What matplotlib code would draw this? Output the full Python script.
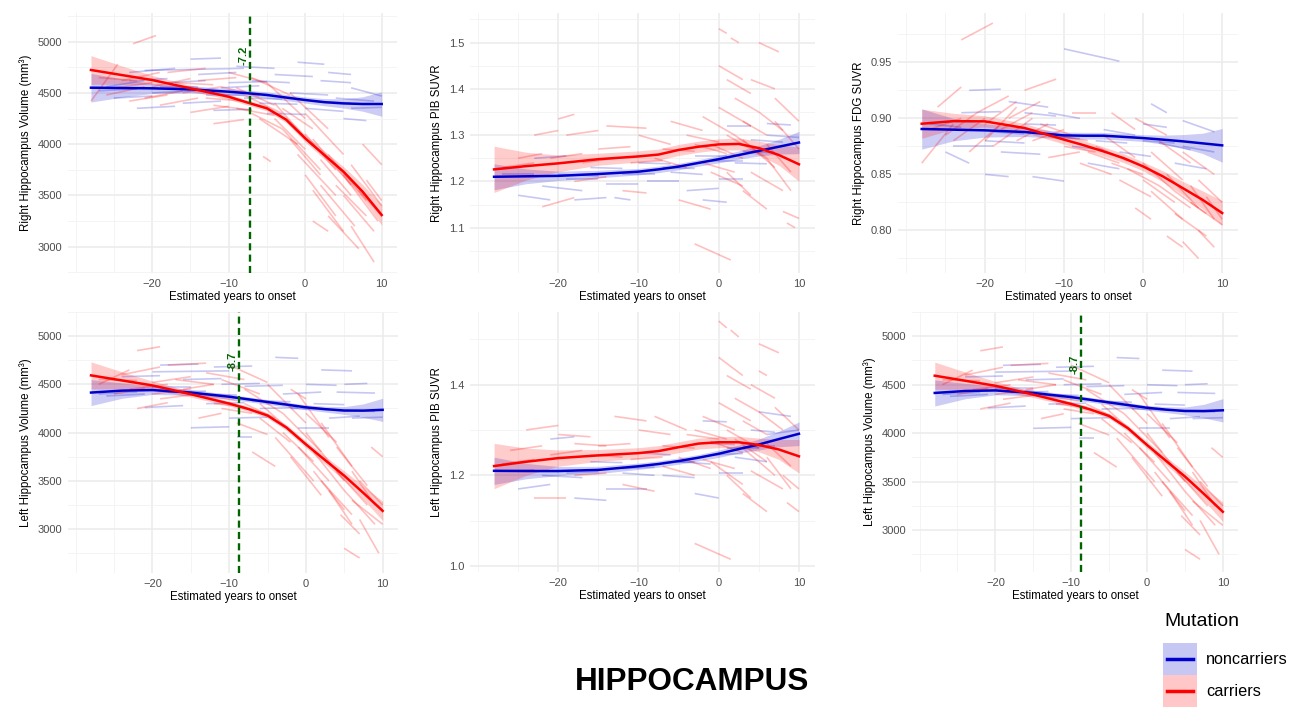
import matplotlib
matplotlib.use('Agg')
import matplotlib.pyplot as plt
from matplotlib.patches import Rectangle

plt.rcParams['font.family'] = ['Liberation Sans', 'DejaVu Sans']

W, H = 1297, 707
RED = '#FF0000'
BLUE = '#0000CD'
GREEN = '#006400'

# x grid of the smooth fits (years to onset)
fit_x = [-28, -24, -20, -15, -10, -7.5, -5, -2.5, 0, 2.5, 5, 7.5, 10]

# ---- Right hippocampus volume ----
rv_car_fit = [4724, 4675, 4626, 4545, 4463, 4405, 4350, 4240, 4057, 3894, 3732, 3537, 3309]
rv_car_hw = [140, 90, 45, 30, 25, 25, 25, 30, 35, 40, 50, 70, 100]
rv_non_fit = [4551, 4548, 4545, 4535, 4512, 4497, 4480, 4455, 4431, 4410, 4398, 4392, 4392]
rv_non_hw = [140, 90, 50, 35, 30, 30, 30, 30, 30, 35, 45, 70, 120]
rv_car_seg = [
    (-28, 4420, -24.5, 4780), (-22.5, 4980, -19.5, 5060), (-26, 4480, -21, 4560),
    (-24, 4620, -19, 4700), (-23, 4420, -18, 4480), (-20, 4560, -15, 4640),
    (-19, 4380, -14, 4450), (-18, 4700, -13, 4740), (-16, 4500, -11, 4560),
    (-15, 4310, -10, 4370), (-14, 4620, -9, 4650), (-12, 4200, -8, 4240),
    (-11, 4560, -6, 4470), (-10, 4700, -5, 4600), (-9, 4350, -4, 4280),
    (-8, 4480, -3, 4300), (-7, 4650, -2, 4480), (-6, 4250, -1, 4000),
    (-5, 4600, 0, 4250), (-4, 4400, 1, 3980), (-3, 4150, 2, 3750),
    (-2, 4500, 3, 4150), (-1, 3900, 4, 3500), (0, 4300, 5, 3900),
    (0, 3700, 4, 3300), (1, 4050, 6, 3600), (2, 3600, 6.5, 3200),
    (3, 3900, 8, 3450), (3, 3300, 7, 2980), (5, 3700, 9.5, 3250),
    (6, 3200, 9, 2850), (7.5, 4000, 10, 3800), (8, 3650, 10, 3450),
    (1, 3250, 3, 3150), (-5.5, 3880, -4.5, 3830), (-13, 4450, -8, 4420),
    (-27, 4650, -22, 4620), (-25, 4550, -20, 4600), (-21, 4450, -16, 4520),
    (-17, 4600, -12, 4580), (-13, 4520, -8, 4420), (-12, 4380, -7, 4330),
    (-9, 4550, -4, 4380), (-7, 4300, -3, 4150), (-4, 4250, 0, 3950),
    (-2, 4050, 2, 3700), (0, 4100, 4, 3750), (2, 3850, 6, 3500),
    (4, 3600, 8, 3300), (5, 3500, 9, 3150), (6, 3800, 10, 3400),
    (7, 3550, 10, 3300), (-3, 4350, 1, 4150), (1, 3550, 5, 3150),
]
rv_non_seg = [
    (-26, 4560, -21, 4620), (-25, 4450, -20, 4470), (-23, 4700, -17, 4740),
    (-22, 4350, -17, 4370), (-20, 4500, -15, 4520), (-18, 4600, -13, 4620),
    (-16, 4400, -11, 4420), (-15, 4830, -11, 4840), (-14, 4680, -9, 4700),
    (-12, 4330, -7, 4340), (-11, 4550, -6, 4570), (-9, 4760, -4, 4740),
    (-8, 4450, -3, 4440), (-7, 4620, -2, 4600), (-5, 4300, 0, 4290),
    (-4, 4680, 1, 4660), (-2, 4500, 3, 4480), (-1, 4800, 2.5, 4780),
    (0, 4350, 5, 4320), (2, 4620, 6, 4600), (3, 4700, 6, 4680),
    (4, 4450, 9, 4420), (5, 4250, 8, 4230), (6, 4550, 10, 4470),
    (-21, 4720, -8, 4740), (-27, 4520, -22, 4540), (-19, 4560, -14, 4560),
    (-13, 4480, -8, 4480), (-6, 4400, -1, 4390), (1, 4420, 6, 4400),
    (6, 4350, 10, 4360), (-10, 4600, -5, 4610), (-23, 4620, -18, 4640),
]

# ---- Right hippocampus PIB SUVR ----
rp_car_fit = [1.226, 1.233, 1.239, 1.248, 1.254, 1.258, 1.268, 1.275, 1.280, 1.281, 1.272, 1.257, 1.237]
rp_car_hw = [0.050, 0.030, 0.018, 0.013, 0.012, 0.012, 0.012, 0.012, 0.012, 0.013, 0.015, 0.022, 0.037]
rp_non_fit = [1.210, 1.211, 1.212, 1.216, 1.221, 1.226, 1.232, 1.240, 1.248, 1.257, 1.266, 1.275, 1.284]
rp_non_hw = [0.028, 0.016, 0.010, 0.008, 0.007, 0.007, 0.007, 0.007, 0.008, 0.009, 0.011, 0.016, 0.024]
rp_car_seg = [
    (-25, 1.250, -22, 1.260), (-23, 1.300, -20, 1.310), (-20, 1.335, -18, 1.345),
    (-22, 1.145, -18, 1.165), (-19, 1.300, -15, 1.310), (-17, 1.240, -13, 1.250),
    (-14, 1.320, -9, 1.315), (-12, 1.180, -9, 1.175), (-10, 1.300, -6, 1.280),
    (-8, 1.250, -4, 1.230), (-6, 1.330, -2, 1.310), (-5, 1.160, -1, 1.140),
    (-3, 1.065, 1.5, 1.030), (-2, 1.340, 2, 1.300), (0, 1.450, 3, 1.420),
    (0, 1.530, 1, 1.520), (1.5, 1.510, 2.5, 1.500), (0, 1.360, 4, 1.320),
    (1, 1.420, 4, 1.390), (1, 1.220, 4, 1.170), (2, 1.300, 6, 1.250),
    (3, 1.180, 6, 1.140), (4, 1.420, 7, 1.400), (5, 1.500, 7.5, 1.480),
    (5, 1.350, 8, 1.310), (6, 1.250, 9, 1.180), (7, 1.330, 10, 1.270),
    (8, 1.135, 10, 1.120), (8.5, 1.110, 9.5, 1.100), (-3, 1.280, 1, 1.260),
    (3, 1.290, 7, 1.230), (-1, 1.220, 3, 1.190),
    (-27, 1.230, -23, 1.240), (-21, 1.250, -17, 1.260), (-18, 1.200, -14, 1.210),
    (-15, 1.270, -11, 1.275), (-11, 1.240, -7, 1.245), (-7, 1.270, -3, 1.265),
    (-4, 1.300, 0, 1.285), (-1, 1.280, 3, 1.250), (1, 1.300, 5, 1.260),
    (2, 1.380, 5, 1.350), (4, 1.220, 8, 1.180), (6, 1.280, 9, 1.220),
    (-2, 1.240, 2, 1.220), (7, 1.380, 10, 1.330), (3, 1.330, 6, 1.300),
]
rp_non_seg = [
    (-25, 1.170, -21, 1.160), (-22, 1.190, -17, 1.180), (-20, 1.215, -15, 1.212),
    (-18, 1.160, -14, 1.165), (-16, 1.230, -12, 1.228), (-14, 1.195, -10, 1.195),
    (-13, 1.165, -11, 1.160), (-10, 1.240, -6, 1.238), (-9, 1.200, -5, 1.200),
    (-6, 1.220, -2, 1.215), (-4, 1.180, 0, 1.185), (-3, 1.255, 1, 1.255),
    (0, 1.205, 3, 1.205), (1, 1.320, 4, 1.320), (2, 1.240, 6, 1.238),
    (4, 1.290, 8, 1.285), (6, 1.325, 9, 1.322), (-23, 1.250, -19, 1.255),
    (-2, 1.160, 1, 1.155), (-27, 1.215, -23, 1.215), (-19, 1.205, -15, 1.205),
    (-12, 1.215, -8, 1.215), (-7, 1.230, -3, 1.228), (-1, 1.245, 3, 1.245),
    (3, 1.265, 7, 1.262), (6, 1.300, 10, 1.295),
]

# ---- Right hippocampus FDG SUVR ----
rf_car_fit = [0.8952, 0.8975, 0.8973, 0.8914, 0.8810, 0.8760, 0.8705, 0.8646, 0.8571, 0.8482, 0.8378, 0.8274, 0.8155]
rf_car_hw = [0.013, 0.007, 0.005, 0.004, 0.004, 0.004, 0.004, 0.004, 0.004, 0.005, 0.006, 0.008, 0.011]
rf_non_fit = [0.8905, 0.8899, 0.8893, 0.8878, 0.8848, 0.8845, 0.8845, 0.8835, 0.8824, 0.8810, 0.8795, 0.8777, 0.8759]
rf_non_hw = [0.018, 0.010, 0.006, 0.004, 0.003, 0.003, 0.003, 0.003, 0.003, 0.004, 0.006, 0.009, 0.015]
rf_car_seg = [
    (-28, 0.860, -24, 0.895), (-26, 0.910, -23, 0.928), (-24, 0.880, -20, 0.900),
    (-23, 0.970, -19, 0.985), (-22, 0.870, -18, 0.895), (-21, 0.905, -17, 0.920),
    (-20, 0.880, -16, 0.910), (-19, 0.875, -14, 0.900), (-17, 0.900, -13, 0.915),
    (-15, 0.925, -11, 0.935), (-14, 0.880, -10, 0.890), (-12, 0.865, -8, 0.870),
    (-9, 0.905, -6, 0.905), (-8, 0.860, -4, 0.850), (-5, 0.885, -1, 0.865),
    (-4, 0.905, -1, 0.890), (-3, 0.845, 1, 0.830), (-1, 0.900, 3, 0.885),
    (-1, 0.820, 1, 0.810), (0, 0.860, 4, 0.835), (1, 0.835, 5, 0.810),
    (2, 0.880, 6, 0.860), (3, 0.795, 5, 0.785), (3, 0.850, 7, 0.820),
    (4, 0.815, 8, 0.795), (5, 0.790, 7, 0.775), (5, 0.870, 9, 0.850),
    (6, 0.840, 9, 0.810), (7, 0.800, 9, 0.785), (8, 0.830, 10, 0.810),
    (-6, 0.875, -2, 0.862), (-11, 0.885, -7, 0.880),
    (-27, 0.890, -23, 0.900), (-25, 0.885, -21, 0.905), (-18, 0.890, -14, 0.905),
    (-16, 0.880, -12, 0.895), (-13, 0.895, -9, 0.885), (-10, 0.875, -6, 0.870),
    (-7, 0.870, -3, 0.860), (-4, 0.860, 0, 0.850), (-2, 0.855, 2, 0.840),
    (0, 0.845, 4, 0.825), (2, 0.840, 6, 0.820), (4, 0.835, 8, 0.815),
    (6, 0.825, 10, 0.805), (7, 0.845, 10, 0.825), (1, 0.870, 5, 0.845),
    (-20, 0.895, -16, 0.915),
]
rf_non_seg = [
    (-25, 0.870, -22, 0.860), (-23, 0.905, -18, 0.906), (-22, 0.925, -18, 0.926),
    (-20, 0.880, -15, 0.878), (-18, 0.870, -13, 0.868), (-17, 0.915, -12, 0.910),
    (-15, 0.895, -11, 0.894), (-14, 0.848, -10, 0.844), (-12, 0.905, -8, 0.900),
    (-10, 0.962, -3, 0.951), (-9, 0.875, -5, 0.872), (-7, 0.860, -3, 0.855),
    (-5, 0.890, -1, 0.885), (-3, 0.870, 1, 0.866), (0, 0.895, 3, 0.892),
    (1, 0.913, 3, 0.905), (2, 0.878, 6, 0.872), (4, 0.860, 8, 0.855),
    (5, 0.898, 9, 0.888), (-24, 0.875, -19, 0.875), (-20, 0.850, -17, 0.848),
    (-27, 0.895, -23, 0.892), (-19, 0.888, -15, 0.886), (-12, 0.884, -8, 0.882),
    (-6, 0.880, -2, 0.878), (0, 0.880, 4, 0.878), (5, 0.875, 9, 0.870),
    (-15, 0.905, -11, 0.902),
]

# ---- Left hippocampus volume ----
lv_car_fit = [4593, 4541, 4489, 4398, 4301, 4245, 4177, 4050, 3878, 3715, 3553, 3374, 3189]
lv_car_hw = [140, 90, 45, 30, 25, 25, 25, 30, 35, 40, 50, 70, 100]
lv_non_fit = [4415, 4435, 4441, 4415, 4372, 4345, 4317, 4290, 4262, 4243, 4229, 4228, 4236]
lv_non_hw = [135, 80, 45, 30, 25, 25, 25, 25, 25, 30, 40, 70, 120]
lv_car_seg = [
    (-27, 4500, -23, 4650), (-22, 4850, -19, 4890), (-25, 4400, -21, 4460),
    (-24, 4600, -19, 4680), (-22, 4250, -18, 4310), (-20, 4520, -15, 4580),
    (-19, 4350, -14, 4400), (-18, 4700, -13, 4720), (-16, 4450, -12, 4500),
    (-14, 4150, -11, 4200), (-13, 4620, -8, 4550), (-12, 4300, -8, 4270),
    (-10, 4700, -5, 4520), (-9, 4100, -5, 3980), (-8, 4450, -3, 4200),
    (-7, 3800, -4, 3650), (-6, 4300, -1, 3950), (-5, 4500, 0, 4100),
    (-4, 3950, 1, 3500), (-3, 4200, 2, 3800), (-2, 3750, 2, 3350),
    (-1, 4400, 3, 3950), (0, 4000, 5, 3500), (1, 3600, 5, 3200),
    (2, 4100, 6, 3650), (3, 3400, 6, 3050), (4, 3850, 8, 3450),
    (4.5, 3150, 7, 2950), (5, 2800, 7, 2700), (6, 3600, 9, 3250),
    (7, 3100, 9.5, 2750), (8.5, 3850, 10, 3750), (-11, 4550, -6, 4400),
    (-2, 4450, 0, 4350),
    (-27, 4550, -22, 4540), (-23, 4450, -18, 4500), (-20, 4400, -15, 4450),
    (-17, 4550, -12, 4500), (-14, 4400, -9, 4330), (-11, 4250, -7, 4200),
    (-8, 4300, -4, 4150), (-6, 4150, -2, 3900), (-3, 4000, 1, 3700),
    (-1, 3850, 3, 3500), (1, 3800, 5, 3400), (2, 3500, 6, 3150),
    (4, 3600, 8, 3250), (5, 3400, 9, 3050), (6, 3300, 10, 3050),
    (7, 3500, 10, 3250), (0, 4200, 4, 3900),
]
lv_non_seg = [
    (-26, 4380, -21, 4400), (-24, 4580, -19, 4590), (-21, 4260, -16, 4280),
    (-19, 4700, -14, 4710), (-18, 4420, -13, 4430), (-16, 4550, -11, 4560),
    (-15, 4050, -10, 4060), (-13, 4300, -8, 4310), (-12, 4680, -7, 4690),
    (-10, 4150, -5, 4160), (-9, 3950, -7, 3950), (-8, 4480, -3, 4490),
    (-6, 4250, -1, 4260), (-4, 4780, -1, 4770), (-3, 4400, 2, 4420),
    (-1, 4050, 3, 4050), (0, 4500, 4, 4490), (1, 4300, 5, 4290),
    (2, 4650, 6, 4640), (3, 4150, 7, 4170), (4, 4420, 9, 4410),
    (5, 4500, 8, 4510), (-20, 4630, -10, 4640),
    (-27, 4400, -22, 4420), (-20, 4470, -15, 4470), (-14, 4400, -9, 4390),
    (-7, 4330, -2, 4320), (-2, 4250, 3, 4240), (4, 4230, 9, 4220),
    (6, 4150, 10, 4160), (-11, 4500, -6, 4510),
]

# ---- Left hippocampus PIB SUVR ----
lp_car_fit = [1.2205, 1.230, 1.238, 1.244, 1.249, 1.2535, 1.262, 1.270, 1.273, 1.273, 1.267, 1.257, 1.242]
lp_car_hw = [0.050, 0.030, 0.018, 0.013, 0.012, 0.012, 0.012, 0.012, 0.012, 0.013, 0.015, 0.022, 0.037]
lp_non_fit = [1.210, 1.2095, 1.2095, 1.212, 1.220, 1.225, 1.2315, 1.239, 1.2476, 1.258, 1.268, 1.280, 1.2916]
lp_non_hw = [0.030, 0.017, 0.010, 0.008, 0.007, 0.007, 0.007, 0.007, 0.008, 0.009, 0.012, 0.017, 0.026]
lp_car_seg = [
    (-26, 1.255, -22, 1.265), (-24, 1.300, -20, 1.310), (-23, 1.150, -19, 1.150),
    (-20, 1.290, -16, 1.285), (-18, 1.270, -14, 1.265), (-16, 1.245, -12, 1.240),
    (-13, 1.330, -9, 1.320), (-12, 1.180, -8, 1.165), (-10, 1.300, -6, 1.290),
    (-8, 1.330, -4, 1.300), (-7, 1.220, -3, 1.200), (-5, 1.240, -1, 1.215),
    (-3, 1.050, 1.5, 1.015), (-2, 1.330, 2, 1.300), (0, 1.460, 3, 1.420),
    (0, 1.540, 1, 1.525), (1.5, 1.520, 2.5, 1.505), (0, 1.360, 4, 1.320),
    (1, 1.420, 4, 1.390), (1, 1.200, 4, 1.150), (2, 1.280, 6, 1.230),
    (3, 1.160, 6, 1.120), (4, 1.400, 7, 1.370), (5, 1.490, 7.5, 1.470),
    (5, 1.340, 8, 1.300), (6, 1.240, 9, 1.170), (7, 1.350, 10, 1.300),
    (8, 1.200, 10, 1.170), (8.5, 1.140, 10, 1.120), (-3, 1.300, 1, 1.280),
    (3, 1.260, 7, 1.200), (-1, 1.230, 3, 1.180), (5, 1.430, 6, 1.420),
    (-27, 1.225, -23, 1.235), (-21, 1.245, -17, 1.255), (-18, 1.200, -14, 1.205),
    (-15, 1.265, -11, 1.270), (-11, 1.235, -7, 1.240), (-7, 1.265, -3, 1.260),
    (-4, 1.290, 0, 1.280), (-1, 1.275, 3, 1.250), (1, 1.300, 5, 1.260),
    (2, 1.370, 5, 1.340), (4, 1.210, 8, 1.170), (6, 1.270, 9, 1.220),
    (-2, 1.235, 2, 1.215), (3, 1.320, 6, 1.290),
]
lp_non_seg = [
    (-25, 1.170, -21, 1.180), (-22, 1.200, -17, 1.195), (-21, 1.280, -18, 1.285),
    (-18, 1.150, -14, 1.145), (-16, 1.230, -12, 1.228), (-14, 1.170, -9, 1.170),
    (-12, 1.205, -8, 1.200), (-10, 1.250, -6, 1.245), (-7, 1.200, -3, 1.195),
    (-5, 1.230, -1, 1.225), (-3, 1.160, 0, 1.150), (-2, 1.320, 1, 1.318),
    (0, 1.205, 3, 1.205), (1, 1.260, 5, 1.260), (2, 1.240, 6, 1.230),
    (4, 1.300, 7, 1.295), (5, 1.340, 9, 1.330), (-1, 1.270, 2, 1.268),
    (-27, 1.210, -23, 1.212), (-19, 1.205, -15, 1.208), (-12, 1.215, -8, 1.218),
    (-7, 1.228, -3, 1.230), (-1, 1.245, 3, 1.248), (3, 1.262, 7, 1.265),
    (6, 1.290, 10, 1.300),
]

x_major = [-20, -10, 0, 10]
x_minor = [-30, -25, -15, -5, 5]


def px_box(left, right, top, bottom):
    return [left / W, 1 - bottom / H, (right - left) / W, (bottom - top) / H]


def draw_panel(ax, car_seg, non_seg, car_fit, car_hw, non_fit, non_hw,
               ylim, y_major, y_minor, ylabel, yfmt, onset=None, onset_y=None):
    for x0, y0, x1, y1 in non_seg:
        ax.plot([x0, x1], [y0, y1], color=BLUE, alpha=0.22, lw=1.2, solid_capstyle='butt')
    for x0, y0, x1, y1 in car_seg:
        ax.plot([x0, x1], [y0, y1], color=RED, alpha=0.25, lw=1.2, solid_capstyle='butt')

    lo = [m - h for m, h in zip(non_fit, non_hw)]
    hi = [m + h for m, h in zip(non_fit, non_hw)]
    ax.fill_between(fit_x, lo, hi, color=BLUE, alpha=0.2, lw=0)
    lo = [m - h for m, h in zip(car_fit, car_hw)]
    hi = [m + h for m, h in zip(car_fit, car_hw)]
    ax.fill_between(fit_x, lo, hi, color=RED, alpha=0.2, lw=0)
    ax.plot(fit_x, non_fit, color=BLUE, lw=1.8)
    ax.plot(fit_x, car_fit, color=RED, lw=1.8)

    if onset is not None:
        ax.axvline(onset, color=GREEN, lw=1.7, linestyle=(0, (3, 1.8)))
        ax.text(onset - 0.15, onset_y, f'{onset}', rotation=90, color=GREEN,
                fontsize=8, fontweight='bold', ha='right', va='center')

    ax.set_xlim(-31, 12)
    ax.set_ylim(*ylim)
    ax.set_xticks(x_major)
    ax.set_xticks(x_minor, minor=True)
    ax.set_yticks(y_major)
    ax.set_yticklabels([yfmt.format(v) for v in y_major])
    ax.set_yticks(y_minor, minor=True)
    ax.grid(which='major', color='#EBEBEB', lw=1.1)
    ax.grid(which='minor', color='#F2F2F2', lw=0.6)
    ax.set_axisbelow(True)
    ax.tick_params(which='both', length=0, labelsize=8, colors='#4D4D4D', pad=4)
    for s in ax.spines.values():
        s.set_visible(False)
    ax.set_xlabel('Estimated years to onset', fontsize=8.3, labelpad=2)
    ax.set_ylabel(ylabel, fontsize=8.3, labelpad=4)


fig = plt.figure(figsize=(W / 100, H / 100), dpi=100)

vol_major = [3000, 3500, 4000, 4500, 5000]
vol_minor = [2750, 3250, 3750, 4250, 4750, 5250]

ax = fig.add_axes(px_box(68, 397, 13, 273))
draw_panel(ax, rv_car_seg, rv_non_seg, rv_car_fit, rv_car_hw, rv_non_fit, rv_non_hw,
           (2743, 5280), vol_major, vol_minor, 'Right Hippocampus Volume (mm³)', '{:d}',
           onset=-7.2, onset_y=4870)

ax = fig.add_axes(px_box(470, 815, 13, 273))
draw_panel(ax, rp_car_seg, rp_non_seg, rp_car_fit, rp_car_hw, rp_non_fit, rp_non_hw,
           (1.002, 1.564), [1.1, 1.2, 1.3, 1.4, 1.5], [1.05, 1.15, 1.25, 1.35, 1.45, 1.55],
           'Right Hippocampus PIB SUVR', '{:.1f}')

ax = fig.add_axes(px_box(898, 1238, 13, 273))
draw_panel(ax, rf_car_seg, rf_non_seg, rf_car_fit, rf_car_hw, rf_non_fit, rf_non_hw,
           (0.762, 0.994), [0.80, 0.85, 0.90, 0.95], [0.775, 0.825, 0.875, 0.925, 0.975],
           'Right Hippocampus FDG SUVR', '{:.2f}')

ax = fig.add_axes(px_box(68, 398, 312, 573))
draw_panel(ax, lv_car_seg, lv_non_seg, lv_car_fit, lv_car_hw, lv_non_fit, lv_non_hw,
           (2545, 5085), vol_major, vol_minor, 'Left Hippocampus Volume (mm³)', '{:d}',
           onset=-8.7, onset_y=4743)

ax = fig.add_axes(px_box(470, 815, 312, 572))
draw_panel(ax, lp_car_seg, lp_non_seg, lp_car_fit, lp_car_hw, lp_non_fit, lp_non_hw,
           (0.987, 1.56), [1.0, 1.2, 1.4], [1.1, 1.3, 1.5],
           'Left Hippocampus PIB SUVR', '{:.1f}')

ax = fig.add_axes(px_box(912, 1238, 312, 572))
draw_panel(ax, lv_car_seg, lv_non_seg, lv_car_fit, lv_car_hw, lv_non_fit, lv_non_hw,
           (2568, 5063), vol_major, vol_minor, 'Left Hippocampus Volume (mm³)', '{:d}',
           onset=-8.7, onset_y=4715)

fig.text(692 / W, 1 - 682 / H, 'HIPPOCAMPUS', fontsize=22.7, fontweight='bold',
         ha='center', va='center')

# legend drawn in pixel space on an overlay axes
lg = fig.add_axes([0, 0, 1, 1])
lg.set_xlim(0, W)
lg.set_ylim(H, 0)
lg.axis('off')
lg.text(1164, 622, 'Mutation', fontsize=14, ha='left', va='center')
for i, (name, col) in enumerate([('noncarriers', BLUE), ('carriers', RED)]):
    top = 643 + i * 32
    lg.add_patch(Rectangle((1163, top), 34, 32, facecolor=col, alpha=0.22, lw=0))
    lg.plot([1167, 1193], [top + 16, top + 16], color=col, lw=2.5)
    lg.text(1206, top + 17, name, fontsize=11.7, ha='left', va='center')

fig.savefig('out.png', dpi=100)
